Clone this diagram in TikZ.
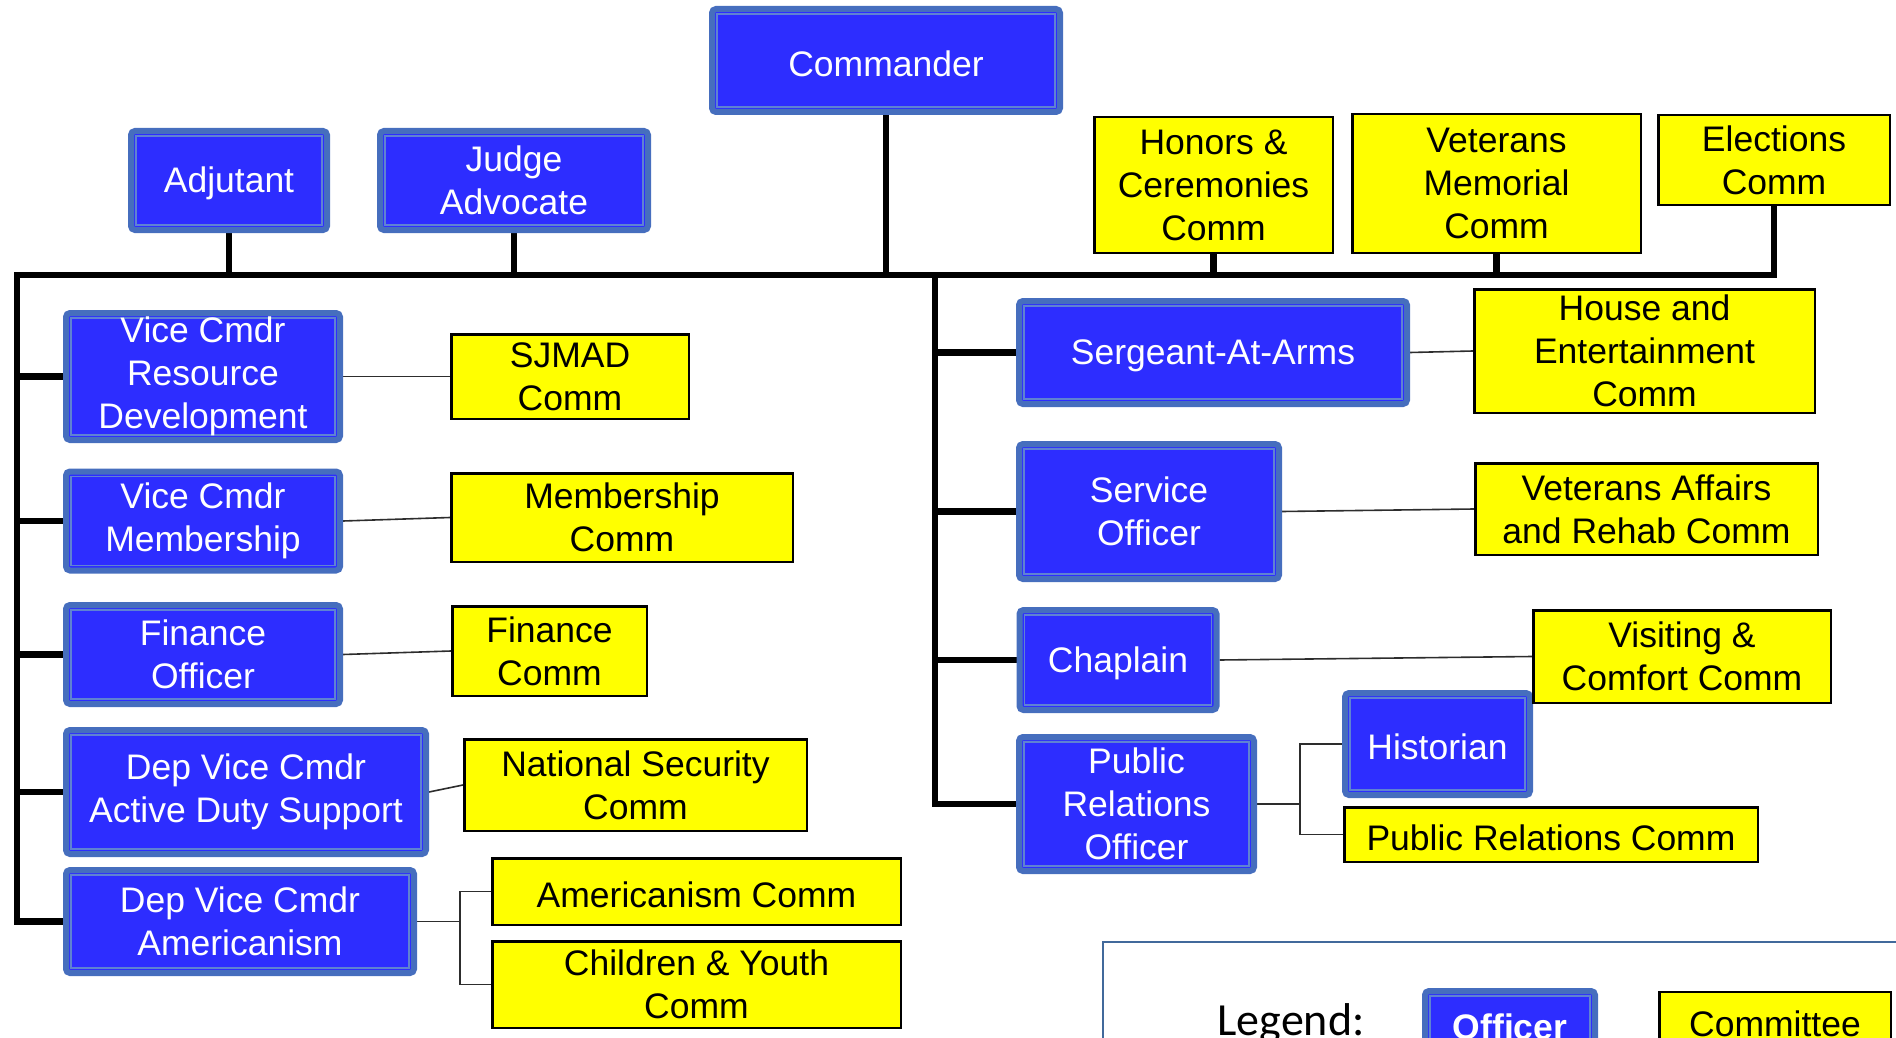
\documentclass[tikz,border=0pt]{standalone}
\usepackage{fontspec}
\setmainfont{Liberation Sans}
\newfontfamily\legendfont{Carlito}
\usetikzlibrary{backgrounds}

\definecolor{officerfill}{RGB}{45,45,255}
\definecolor{officerline}{RGB}{70,110,190}
\definecolor{officerinner}{RGB}{95,130,210}
\definecolor{commfill}{RGB}{255,255,0}
\definecolor{legendline}{RGB}{65,105,155}
\definecolor{thinline}{RGB}{45,45,45}

\tikzset{
  officer/.style={draw=officerline, line width=6pt, fill=officerfill,
    rounded corners=4pt, text=white, align=center, inner sep=0pt,
    font=\fontsize{35.5}{43}\selectfont,
    execute at begin node={\rule{0pt}{0.9em}},
    path picture={\draw[officerinner, line width=1.5pt, sharp corners]
      ([shift={(5pt,-5pt)}]path picture bounding box.north west) rectangle
      ([shift={(-5pt,5pt)}]path picture bounding box.south east);}},
  committee/.style={draw=black, line width=2.5pt, fill=commfill,
    align=center, inner sep=0pt, font=\fontsize{35.5}{43}\selectfont,
    execute at begin node={\rule{0pt}{0.9em}}},
  boxsize/.style 2 args={minimum width=#1pt, minimum height=#2pt},
  trunk/.style={line width=6.5pt, black, line join=miter},
  branch/.style={line width=1.6pt, thinline},
}

\begin{document}
\begin{tikzpicture}[x=1pt, y=-1pt]
  \useasboundingbox (0,0) rectangle (1896,1038);
  \clip (0,0) rectangle (1896,1038);

  % top row
  \node[officer, boxsize={348}{103}] (cmdr) at (886,60.5) {Commander};
  \node[officer, boxsize={196}{99}] (adj) at (229,180.5) {Adjutant};
  \node[officer, boxsize={268}{99}] (judge) at (514,180.5) {Judge\\Advocate};
  \node[committee, boxsize={238.5}{135.5}] (honors) at (1213.5,185) {Honors \&\\Ceremonies\\Comm};
  \node[committee, boxsize={288.5}{138.5}] (vetmem) at (1496.5,183.5) {Veterans\\Memorial\\Comm};
  \node[committee, boxsize={231.5}{89.5}] (elect) at (1774,160) {Elections\\Comm};

  % left column
  \node[officer, boxsize={274}{127}] (vcrd) at (203,376.5) {Vice Cmdr\\Resource\\Development};
  \node[officer, boxsize={274}{99}] (vcmem) at (203,521) {Vice Cmdr\\Membership};
  \node[officer, boxsize={274}{99}] (fin) at (203,654.5) {Finance\\Officer};
  \node[officer, boxsize={360}{124}] (dvads) at (246,792) {Dep Vice Cmdr\\Active Duty Support};
  \node[officer, boxsize={348}{103}] (dvam) at (240,921.5) {Dep Vice Cmdr\\Americanism};

  \node[committee, boxsize={237.5}{84.5}] (sjmad) at (570,376.5) {SJMAD\\Comm};
  \node[committee, boxsize={341.5}{88.5}] (memc) at (622,517.5) {Membership\\Comm};
  \node[committee, boxsize={194.5}{89.5}] (finc) at (549.5,651) {Finance\\Comm};
  \node[committee, boxsize={342.5}{91.5}] (natsec) at (635.5,785) {National Security\\Comm};
  \node[committee, boxsize={408.5}{66.5}] (amc) at (696.5,891.5) {Americanism Comm};
  \node[committee, boxsize={408.5}{86.5}] (cyc) at (696.5,984.5) {Children \& Youth\\Comm};

  % right column
  \node[officer, boxsize={388}{103}] (sgt) at (1213,352.5) {Sergeant-At-Arms};
  \node[officer, boxsize={260}{135}] (svc) at (1149,511.5) {Service\\Officer};
  \node[officer, boxsize={197}{100}] (chap) at (1118,660) {Chaplain};
  \node[officer, boxsize={235}{134}] (pro) at (1136.5,804) {Public\\Relations\\Officer};
  \node[officer, boxsize={185}{102}] (hist) at (1437.5,744) {Historian};

  \node[committee, boxsize={340.5}{123.5}] (house) at (1644.5,351) {House and\\Entertainment\\Comm};
  \node[committee, boxsize={342.5}{91.5}] (vac) at (1646.5,509) {Veterans Affairs\\and Rehab Comm};
  \node[committee, boxsize={297.5}{92.5}] (visc) at (1682,656.5) {Visiting \&\\Comfort Comm};
  \node[committee, boxsize={413.5}{54.5}] (prc) at (1551,834.5) {Public Relations Comm};

  % legend
  \node[draw=legendline, line width=2pt, anchor=north west, boxsize={850}{160}] (legendbox) at (1102,941) {};
  \node[font=\legendfont\fontsize{46}{50}\selectfont, anchor=base] (legendlabel) at (1291,1035) {Legend:};
  \node[officer, boxsize={170}{66}, font=\bfseries\fontsize{35.5}{43}\selectfont,
    execute at begin node={}] (legofficer) at (1510,1024) {Officer};
  \node[committee, boxsize={231.5}{58}, execute at begin node={}] (legcomm) at (1775,1021) {Committee};

  \begin{scope}[on background layer]
    \coordinate (lcorner) at (17,275);
    \coordinate (rbus) at (935,275);
    % main bus and left trunk
    \draw[trunk] (elect.south) -- (elect.south |- lcorner) -- (lcorner)
      -- (lcorner |- dvam.west) -- (dvam.west);
    \draw[trunk] (cmdr.south) -- (cmdr.south |- lcorner);
    \foreach \n in {adj, judge, honors, vetmem}
      \draw[trunk] (\n.south) -- (\n.south |- lcorner);
    \foreach \n in {vcrd, vcmem, fin, dvads}
      \draw[trunk] (\n.west) -- (\n.west -| lcorner);
    % right trunk
    \draw[trunk] (rbus) -- (rbus |- pro.west) -- (pro.west);
    \foreach \n in {sgt, svc, chap}
      \draw[trunk] (\n.west) -- (\n.west -| rbus);
    % officer to committee
    \foreach \a/\b in {vcrd/sjmad, vcmem/memc, fin/finc, dvads/natsec,
                       sgt/house, svc/vac, chap/visc}
      \draw[branch] (\a.east) -- (\b.west);
    \draw[branch] (dvam.east) -- ++(43,0) coordinate (amfork);
    \draw[branch] (amc.west) -| (amfork) |- (cyc.west);
    \draw[branch] (pro.east) -- ++(43,0) coordinate (prfork);
    \draw[branch] (hist.west) -| (prfork) |- (prc.west);
  \end{scope}
\end{tikzpicture}
\end{document}
